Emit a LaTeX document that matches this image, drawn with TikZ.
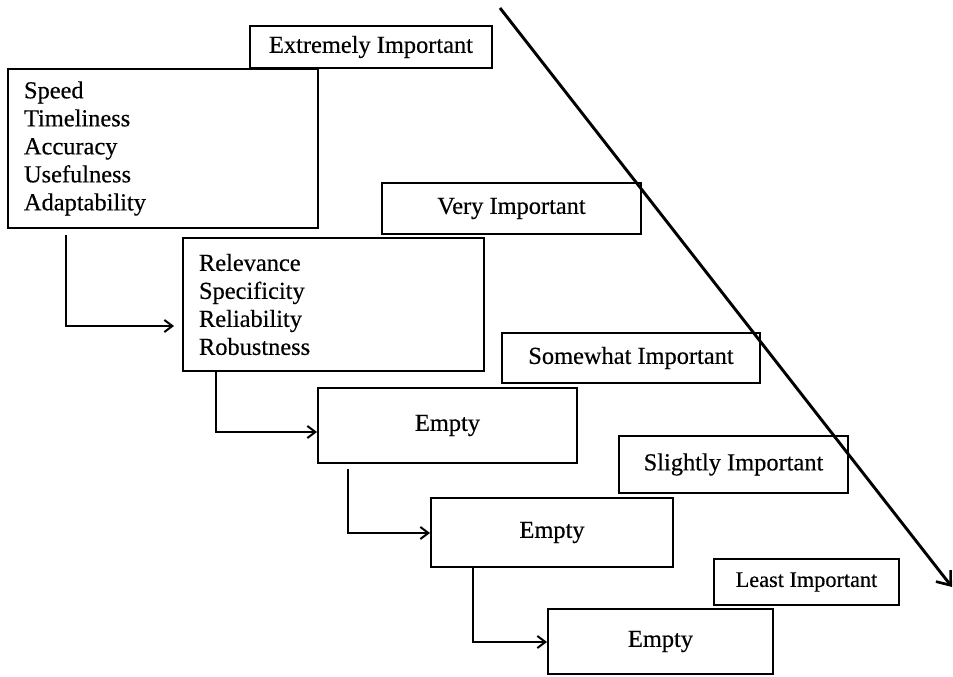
\documentclass[tikz,border=0pt]{standalone}
\usepackage{fontspec}
\setmainfont{Liberation Serif}[FakeBold=0.4]
\usetikzlibrary{arrows.meta,calc}

\tikzset{
  box/.style={draw, line width=1.5pt, fill=white, rectangle, inner sep=0pt,
              font=\fontsize{18.3}{21}\selectfont},
  listbox/.style={box, align=left, inner xsep=12pt, anchor=north west},
  label/.style={box, align=center},
  flow/.style={line width=1.5pt, -{Straight Barb[length=6pt,width=9pt,line width=1.5pt]}},
  scale line/.style={line width=2.2pt, -{Straight Barb[length=9pt,width=14pt,line width=2pt]}}
}

\begin{document}
\begin{tikzpicture}[x=0.75pt,y=-0.75pt]
  \useasboundingbox (0,0) rectangle (953,677);

  % importance labels
  \node[label, minimum width=181.5pt, minimum height=31.5pt]  (ext)    at (371,47)    {Extremely Important};
  \node[label, minimum width=194.25pt, minimum height=38.25pt] (very)  at (511.5,208.5) {Very Important};
  \node[label, minimum width=193.5pt, minimum height=37.5pt]  (some)   at (631,358)   {Somewhat Important};
  \node[label, minimum width=171.75pt, minimum height=42.75pt] (slight) at (733.5,464.5) {Slightly Important};
  \node[label, minimum width=138.75pt, minimum height=34.5pt, font=\fontsize{16.7}{20}\selectfont] (least) at (806.5,582) {Least Important};

  % criteria boxes
  \node[listbox, text width=208.5pt, minimum height=119.25pt] (b1) at (7,68)
    {Speed\\Timeliness\\Accuracy\\Usefulness\\Adaptability};
  \node[listbox, text width=201.75pt, minimum height=99.75pt] (b2) at (182,237)
    {Relevance\\Specificity\\Reliability\\Robustness};
  \node[label, minimum width=194.25pt, minimum height=56.25pt] (b3) at (447.5,425.5) {Empty};
  \node[label, minimum width=181.5pt,  minimum height=51.75pt] (b4) at (552,532.5)   {Empty};
  \node[label, minimum width=168.75pt, minimum height=48.75pt] (b5) at (660.5,641.5)  {Empty};

  % elbow connectors between the boxes
  \draw[flow, shorten <=4.5pt, shorten >=6pt]
    ($(b1.south west)+(59,0)$) |- ($(b2.north west)+(0,89)$);
  \draw[flow]
    ($(b2.south west)+(34,0)$) |- ($(b3.north west)+(0,45)$);
  \draw[flow, shorten <=3.5pt]
    ($(b3.south west)+(31,0)$) |- ($(b4.north west)+(0,36)$);
  \draw[flow]
    ($(b4.south west)+(43,0)$) |- ($(b5.north west)+(0,34)$);

  % importance scale
  \coordinate (scaletop) at (500,8);
  \coordinate (scalebot) at (952,587);
  \draw[scale line] (scaletop) -- (scalebot);
\end{tikzpicture}
\end{document}
